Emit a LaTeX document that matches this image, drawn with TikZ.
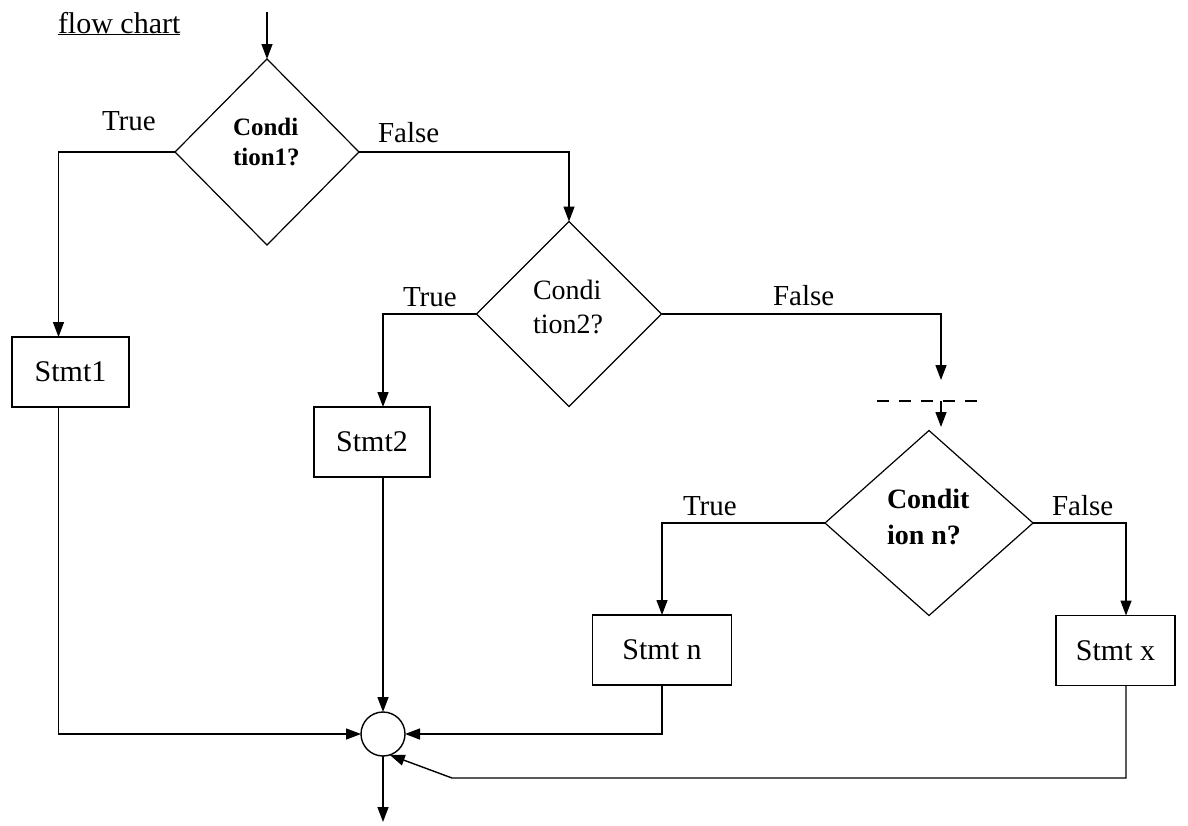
\documentclass[tikz,border=0pt]{standalone}
\usepackage{fontspec}
\setmainfont{Liberation Serif}
\usetikzlibrary{shapes.geometric,arrows.meta,calc}
\begin{document}
\begin{tikzpicture}[x=1pt,y=-1pt,
  line width=1.4pt,
  every node/.style={inner sep=0pt, outer sep=0pt},
  lbl/.style={anchor=base west, font=\fontsize{29}{34}\selectfont},
  decision/.style={draw, diamond, line width=1.2pt, minimum width=#1},
  stmtbox/.style={draw, rectangle, minimum width=#1, minimum height=70pt,
    font=\fontsize{30}{34}\selectfont},
  joinpt/.style={draw, circle, minimum size=44pt},
  arr/.style={-{Triangle[length=15pt,width=11pt]}}
]
\useasboundingbox (0,0) rectangle (1188,825);

% decisions
\node[decision=184pt, minimum height=186pt] (d1) at (267,152) {};
\node[decision=185pt, minimum height=185pt] (d2) at (569,314) {};
\node[decision=208pt, minimum height=185pt] (dn) at (929,523) {};

\node[anchor=west, align=left, font=\fontsize{25}{30}\selectfont\bfseries] (t1) at (233,142) {Condi\\tion1?};
\node[anchor=west, align=left, font=\fontsize{28}{34}\selectfont] (t2) at (533,307) {Condi\\tion2?};
\node[anchor=west, align=left, font=\fontsize{28}{36}\selectfont\bfseries] (tn) at (887,517) {Condit\\ion n?};

% statements
\node[stmtbox=117pt] (s1) at (70.5,372) {Stmt1};
\node[stmtbox=116pt] (s2) at (372,442) {Stmt2};
\node[stmtbox=139pt] (sn) at (662,650) {Stmt n};
\node[stmtbox=119pt] (sx) at (1115.5,650.5) {Stmt x};

% junction
\node[joinpt] (m) at (383,734) {};

% labels
\node[lbl, font=\fontsize{30}{34}\selectfont] (title) at (58,33) {\underline{flow chart}};
\node[lbl] (lt1) at (102,130) {True};
\node[lbl] (lf1) at (378,142) {False};
\node[lbl] (lt2) at (403,306) {True};
\node[lbl] (lf2) at (773,305) {False};
\node[lbl] (ltn) at (683,515) {True};
\node[lbl] (lfn) at (1052,515) {False};

% free ends
\coordinate (start) at (267,12);
\coordinate (c2) at (941,380);
\coordinate (dl) at (877,401);
\coordinate (dr) at (977,401);
\coordinate (c3) at (941,401);
\coordinate (c4) at (941,427);
\coordinate (bend) at (452,778);
\coordinate (stop) at (383,822);

% connectors
\draw[arr] (start) -- (d1.north);
\draw[arr] (d1.west) -| ([xshift=-12pt]s1.north);
\draw[arr] ([xshift=-12pt]s1.south) |- (m.west);
\draw[arr] (d1.east) -| (d2.north);
\draw[arr] (d2.west) -| ([xshift=11pt]s2.north);
\draw[arr] ([xshift=11pt]s2.south) -- (m.north);
\draw[arr] (d2.east) -| (c2);
\draw[line width=2.2pt, dash pattern=on 12pt off 10pt] (dl) -- (dr);
\draw[arr] (c3) -- (c4);
\draw[arr] (dn.west) -| (sn.north);
\draw[arr] (sn.south) |- (m.east);
\draw[arr] (dn.east) -| ([xshift=10.5pt]sx.north);
\draw[arr] ([xshift=10.5pt]sx.south) |- (bend) -- (m.-72);
\draw[arr] (m.south) -- (stop);
\end{tikzpicture}
\end{document}
